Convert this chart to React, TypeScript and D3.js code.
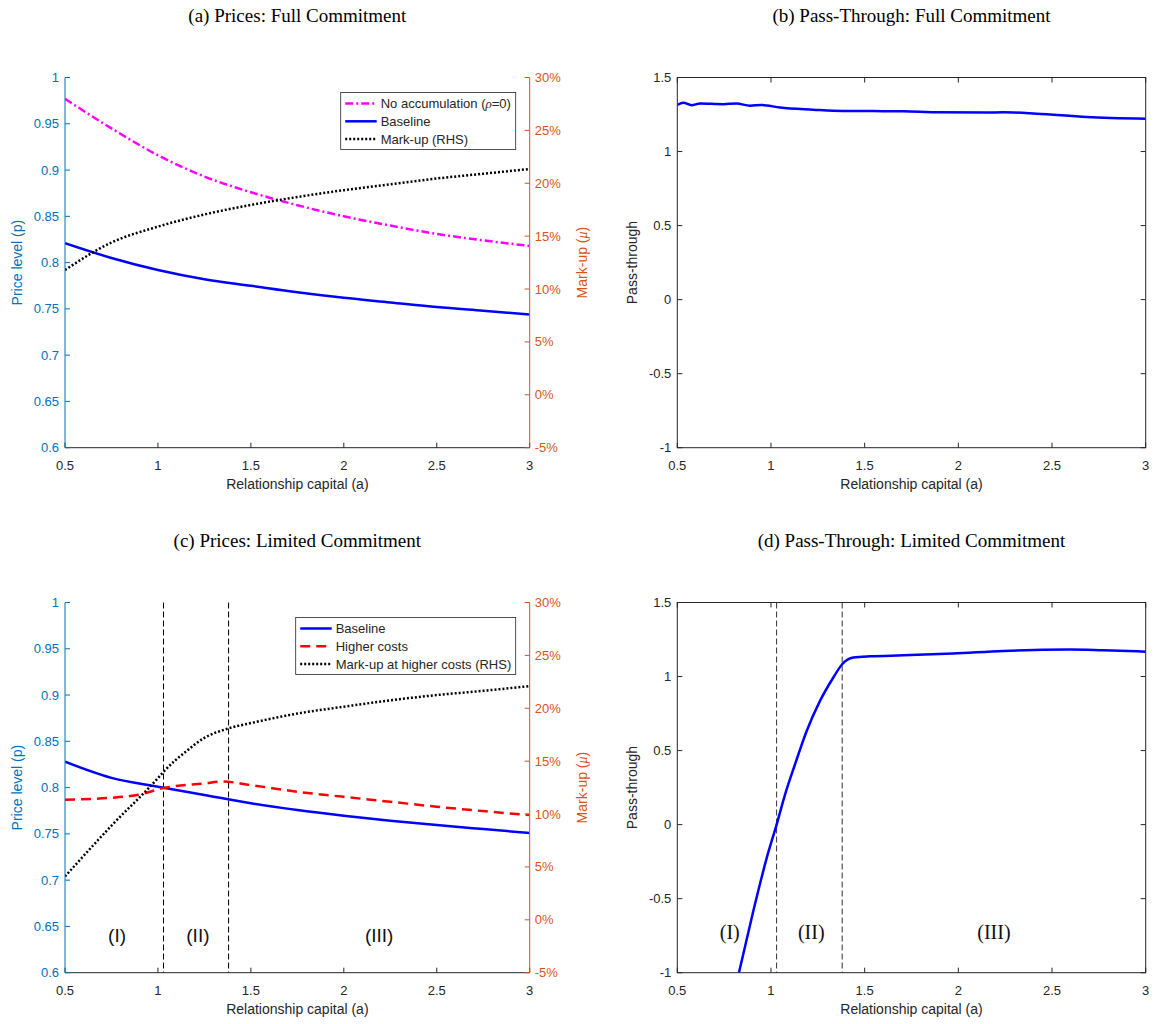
import React from 'react';
import * as d3 from 'd3';

// ---- data ----
const xTicks = [0.5, 1, 1.5, 2, 2.5, 3];
const priceTicks = [0.6, 0.65, 0.7, 0.75, 0.8, 0.85, 0.9, 0.95, 1];
const markupTicks = [-5, 0, 5, 10, 15, 20, 25, 30];
const passTicks = [-1, -0.5, 0, 0.5, 1, 1.5];

// (a) full commitment
const gridA = [0.5, 0.75, 1, 1.25, 1.5, 1.75, 2, 2.25, 2.5, 2.75, 3];
const noAccumFC = [0.977, 0.945, 0.916, 0.893, 0.876, 0.862, 0.85, 0.84, 0.831, 0.824, 0.818];
const baselineFC = [0.821, 0.805, 0.792, 0.782, 0.775, 0.768, 0.762, 0.757, 0.752, 0.748, 0.744];
const markupFC = [11.8, 14.4, 15.9, 17.05, 17.95, 18.7, 19.35, 19.9, 20.45, 20.9, 21.35];

// (b) pass-through, full commitment
const passFCA = [0.5, 0.532, 0.576, 0.621, 0.745, 0.816, 0.888, 0.95, 1.048, 1.225, 1.385, 1.706, 1.883, 2.15, 2.239, 2.417, 2.684, 3.0];
const passFC = [1.315, 1.33, 1.313, 1.324, 1.32, 1.324, 1.31, 1.315, 1.297, 1.283, 1.274, 1.272, 1.265, 1.263, 1.265, 1.256, 1.234, 1.222];

// (c) limited commitment
const baselineLC = [0.828, 0.8105, 0.801, 0.792, 0.783, 0.7757, 0.7696, 0.7642, 0.7595, 0.7552, 0.751];
const higherA = [0.5, 0.75, 0.9, 1.03, 1.25, 1.35, 1.5, 1.75, 2, 2.25, 2.5, 2.75, 3];
const higherLC = [0.787, 0.789, 0.7925, 0.7995, 0.8045, 0.8065, 0.8027, 0.7955, 0.79, 0.7847, 0.7793, 0.7746, 0.7703];
const markupLCA = [0.5, 0.75, 1, 1.03, 1.15, 1.25, 1.38, 1.5, 1.75, 2, 2.25, 2.5, 2.75, 3];
const markupLC = [4.1, 8.9, 13.4, 14.0, 15.9, 17.2, 18.1, 18.6, 19.5, 20.15, 20.75, 21.25, 21.65, 22.1];

// (d) pass-through, limited commitment
const passLCA = [0.829, 0.905, 0.977, 1.03, 1.075, 1.128, 1.19, 1.261, 1.332, 1.38, 1.439, 1.528, 1.706, 1.972, 2.239, 2.595, 2.772, 3.0];
const passLC = [-1, -0.587, -0.226, 0.0, 0.203, 0.406, 0.631, 0.834, 0.992, 1.083, 1.128, 1.137, 1.143, 1.155, 1.173, 1.182, 1.177, 1.168];

const regimeBounds = [1.03, 1.38];
const regimeNames = ['(I)', '(II)', '(III)'];
const regimeAt = [0.78, 1.215, 2.19];

const SANS = "'Liberation Sans', Arial, Helvetica, sans-serif";
const SERIF = "'Liberation Serif', 'Times New Roman', Times, serif";
const AX = '#262626';
const BLUE_AX = '#0072BD';
const ORANGE_AX = '#D95319';

type Line = {
  xs: number[];
  ys: number[];
  right?: boolean;
  color: string;
  dash?: string;
  label?: React.ReactNode;
};

function path(xs: number[], ys: number[], sx: any, sy: any) {
  return d3.line<number>()
    .x((_, i) => sx(xs[i]))
    .y(d => sy(d))
    .curve(d3.curveMonotoneX)(ys) || '';
}

function Legend({ x, y, w, lines }: { x: number; y: number; w: number; lines: Line[] }) {
  const items = lines.filter(l => l.label);
  return (
    <g>
      <rect x={x} y={y} width={w} height={57} fill="white" stroke={AX} strokeWidth={0.8} />
      {items.map((l, i) => {
        const yy = y + 11 + i * 17.8;
        return (
          <g key={i}>
            <line x1={x + 4.5} x2={x + 36} y1={yy} y2={yy} stroke={l.color} strokeWidth={2.5} strokeDasharray={l.dash} />
            <text x={x + 40} y={yy} dy="0.35em" fontSize={13} fill={AX} fontFamily={SANS}>{l.label}</text>
          </g>
        );
      })}
    </g>
  );
}

function PricePanel({ id, x0, x1, y0, y1, title, lines, legendW, regimes }:
  { id: string; x0: number; x1: number; y0: number; y1: number; title: string; lines: Line[]; legendW: number; regimes?: boolean }) {
  const sx = d3.scaleLinear().domain([0.5, 3]).range([x0, x1]);
  const sy = d3.scaleLinear().domain([0.6, 1]).range([y1, y0]);
  const sr = d3.scaleLinear().domain([-5, 30]).range([y1, y0]);
  const midY = (y0 + y1) / 2;
  return (
    <g fontFamily={SANS}>
      <text x={(x0 + x1) / 2} y={y0 - 56} textAnchor="middle" fontFamily={SERIF} fontSize={19}>{title}</text>
      <clipPath id={id}><rect x={x0} y={y0} width={x1 - x0} height={y1 - y0} /></clipPath>
      {regimes && regimeBounds.map((b, i) => (
        <line key={i} x1={sx(b)} x2={sx(b)} y1={y0} y2={y1} stroke="black" strokeWidth={1} strokeDasharray="6 3" />
      ))}
      {regimes && regimeNames.map((n, i) => (
        <text key={i} x={sx(regimeAt[i])} y={sy(0.6407)} dy="0.35em" textAnchor="middle" fontSize={19} fill="#111">{n}</text>
      ))}
      <g clipPath={`url(#${id})`}>
        {lines.map((l, i) => (
          <path key={i} d={path(l.xs, l.ys, sx, l.right ? sr : sy)} fill="none" stroke={l.color}
            strokeWidth={2.5} strokeDasharray={l.dash} />
        ))}
      </g>
      {/* bottom axis */}
      <line x1={x0} x2={x1} y1={y1} y2={y1} stroke={AX} strokeWidth={1} />
      {xTicks.map(t => (
        <g key={t}>
          <line x1={sx(t)} x2={sx(t)} y1={y1} y2={y1 - 5} stroke={AX} />
          <text x={sx(t)} y={y1 + 22} textAnchor="middle" fontSize={13} fill={AX}>{t}</text>
        </g>
      ))}
      <text x={(x0 + x1) / 2} y={y1 + 41} textAnchor="middle" fontSize={14} fill={AX}>Relationship capital (a)</text>
      {/* left axis */}
      <line x1={x0} x2={x0} y1={y0} y2={y1} stroke={BLUE_AX} strokeWidth={1} />
      {priceTicks.map(t => (
        <g key={t}>
          <line x1={x0} x2={x0 + 5} y1={sy(t)} y2={sy(t)} stroke={BLUE_AX} />
          <text x={x0 - 6} y={sy(t)} dy="0.35em" textAnchor="end" fontSize={13} fill={BLUE_AX}>{t}</text>
        </g>
      ))}
      <text transform={`translate(${x0 - 48},${midY}) rotate(-90)`} dy="0.35em" textAnchor="middle" fontSize={14} fill={BLUE_AX}>Price level (p)</text>
      {/* right axis */}
      <line x1={x1} x2={x1} y1={y0} y2={y1} stroke={ORANGE_AX} strokeWidth={1} />
      {markupTicks.map(t => (
        <g key={t}>
          <line x1={x1} x2={x1 - 5} y1={sr(t)} y2={sr(t)} stroke={ORANGE_AX} />
          <text x={x1 + 5} y={sr(t)} dy="0.35em" textAnchor="start" fontSize={13} fill={ORANGE_AX}>{`${t}%`}</text>
        </g>
      ))}
      <text transform={`translate(${x1 + 52},${midY}) rotate(-90)`} dy="0.35em" textAnchor="middle" fontSize={14} fill={ORANGE_AX}>
        Mark-up (<tspan fontStyle="italic" fontFamily={SERIF}>μ</tspan>)
      </text>
      <Legend x={x1 - 14 - legendW} y={y0 + 15} w={legendW} lines={lines} />
    </g>
  );
}

function PassPanel({ id, x0, x1, y0, y1, title, xs, ys, regimes }:
  { id: string; x0: number; x1: number; y0: number; y1: number; title: string; xs: number[]; ys: number[]; regimes?: boolean }) {
  const sx = d3.scaleLinear().domain([0.5, 3]).range([x0, x1]);
  const sy = d3.scaleLinear().domain([-1, 1.5]).range([y1, y0]);
  const midY = (y0 + y1) / 2;
  return (
    <g fontFamily={SANS}>
      <text x={(x0 + x1) / 2} y={y0 - 56} textAnchor="middle" fontFamily={SERIF} fontSize={19}>{title}</text>
      <clipPath id={id}><rect x={x0} y={y0} width={x1 - x0} height={y1 - y0} /></clipPath>
      {regimes && regimeBounds.map((b, i) => (
        <line key={i} x1={sx(b)} x2={sx(b)} y1={y0} y2={y1} stroke="#333" strokeWidth={1} strokeDasharray="6 3" />
      ))}
      {regimes && regimeNames.map((n, i) => (
        <text key={i} x={sx(regimeAt[i])} y={sy(-0.722)} dy="0.35em" textAnchor="middle" fontSize={20} fontFamily={SERIF} fill="#111">{n}</text>
      ))}
      <g clipPath={`url(#${id})`}>
        <path d={path(xs, ys, sx, sy)} fill="none" stroke="#0000FF" strokeWidth={2.5} />
      </g>
      <rect x={x0} y={y0} width={x1 - x0} height={y1 - y0} fill="none" stroke={AX} strokeWidth={1} />
      {xTicks.map(t => (
        <g key={t}>
          <line x1={sx(t)} x2={sx(t)} y1={y1} y2={y1 - 5} stroke={AX} />
          <line x1={sx(t)} x2={sx(t)} y1={y0} y2={y0 + 5} stroke={AX} />
          <text x={sx(t)} y={y1 + 22} textAnchor="middle" fontSize={13} fill={AX}>{t}</text>
        </g>
      ))}
      <text x={(x0 + x1) / 2} y={y1 + 41} textAnchor="middle" fontSize={14} fill={AX}>Relationship capital (a)</text>
      {passTicks.map(t => (
        <g key={t}>
          <line x1={x0} x2={x0 + 5} y1={sy(t)} y2={sy(t)} stroke={AX} />
          <line x1={x1} x2={x1 - 5} y1={sy(t)} y2={sy(t)} stroke={AX} />
          <text x={x0 - 6} y={sy(t)} dy="0.35em" textAnchor="end" fontSize={13} fill={AX}>{t}</text>
        </g>
      ))}
      <text transform={`translate(${x0 - 45},${midY}) rotate(-90)`} dy="0.35em" textAnchor="middle" fontSize={14} fill={AX}>Pass-through</text>
    </g>
  );
}

export default function App() {
  const L = { x0: 65, x1: 529.7 };
  const R = { x0: 677.3, x1: 1145.7 };
  const T = { y0: 77.5, y1: 447.7 };
  const B = { y0: 602.5, y1: 972.7 };

  const linesA: Line[] = [
    { xs: gridA, ys: noAccumFC, color: '#FF00FF', dash: '8 3 2 3',
      label: <>No accumulation (<tspan fontStyle="italic" fontFamily={SERIF}>ρ</tspan>=0)</> },
    { xs: gridA, ys: baselineFC, color: '#0000FF', label: 'Baseline' },
    { xs: gridA, ys: markupFC, right: true, color: '#000000', dash: '2 2', label: 'Mark-up (RHS)' },
  ];
  const linesC: Line[] = [
    { xs: gridA, ys: baselineLC, color: '#0000FF', label: 'Baseline' },
    { xs: higherA, ys: higherLC, color: '#FF0000', dash: '10 6', label: 'Higher costs' },
    { xs: markupLCA, ys: markupLC, right: true, color: '#000000', dash: '2 2', label: 'Mark-up at higher costs (RHS)' },
  ];

  return (
    <div style={{ position: 'absolute', left: 0, top: 0 }}>
      <svg width={1155} height={1024} style={{ display: 'block', background: 'white' }}>
        <PricePanel id="clipA" {...L} {...T} title="(a) Prices: Full Commitment" lines={linesA} legendW={175} />
        <PassPanel id="clipB" {...R} {...T} title="(b) Pass-Through: Full Commitment" xs={passFCA} ys={passFC} />
        <PricePanel id="clipC" {...L} {...B} title="(c) Prices: Limited Commitment" lines={linesC} legendW={220} regimes />
        <PassPanel id="clipD" {...R} {...B} title="(d) Pass-Through: Limited Commitment" xs={passLCA} ys={passLC} regimes />
      </svg>
    </div>
  );
}
